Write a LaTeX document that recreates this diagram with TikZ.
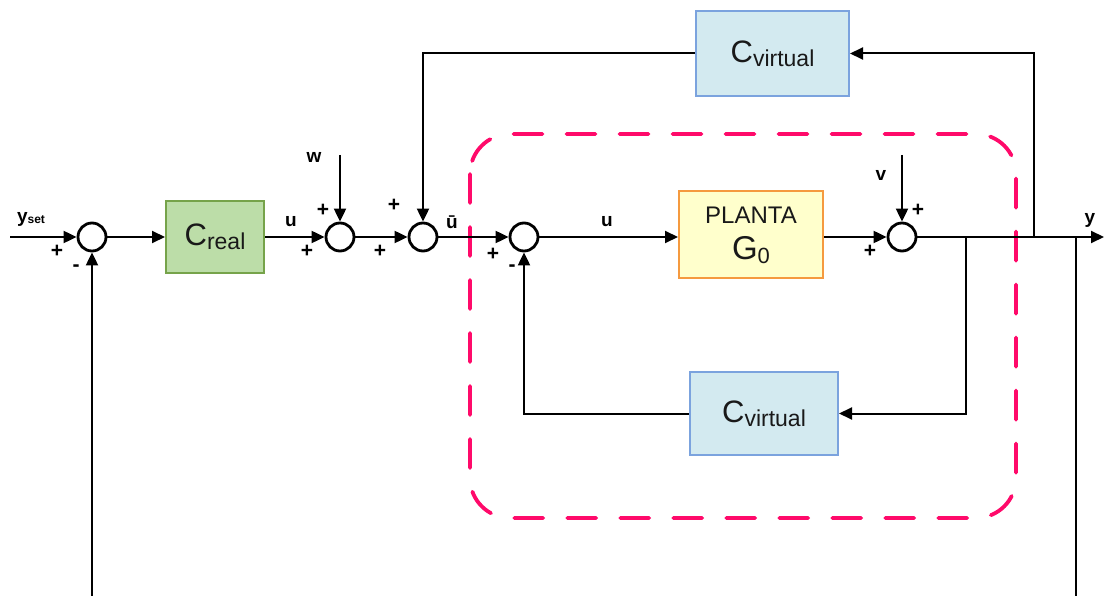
\documentclass[tikz,border=0pt]{standalone}
\usepackage{fontspec}
\setmainfont{Liberation Sans}
\usetikzlibrary{arrows.meta}
\definecolor{realfill}{HTML}{BCDDA8}
\definecolor{realdraw}{HTML}{76A34A}
\definecolor{virtfill}{HTML}{D3EAF0}
\definecolor{virtdraw}{HTML}{7BA3DE}
\definecolor{plantfill}{HTML}{FFFFCC}
\definecolor{plantdraw}{HTML}{F59A3F}
\definecolor{dashcol}{HTML}{FF0A6A}
\tikzset{
  sumnode/.style={circle,draw,line width=2.8pt,minimum size=28pt,inner sep=0pt,fill=white},
  blk/.style={draw,line width=2pt,inner sep=0pt,text=black!90},
  wire/.style={line width=2pt,-{Triangle[length=13pt,width=12pt]}},
  plainwire/.style={line width=2pt},
  lbl/.style={font=\fontsize{19}{19}\selectfont\bfseries,inner sep=0pt},
  sgn/.style={font=\fontsize{21}{21}\selectfont\bfseries,inner sep=0pt},
}
\newcommand{\bigC}[1]{{\fontsize{31}{31}\selectfont C}{\fontsize{23}{23}\selectfont\raisebox{-4pt}{#1}}}
\begin{document}
\begin{tikzpicture}[x=1pt,y=-1pt]
\useasboundingbox (0,0) rectangle (1104,596);
% dashed region
\draw[dashcol,line width=3.8pt,line cap=round,dash pattern=on 29pt off 24pt,rounded corners=40pt]
  (470,134) rectangle (1016,518);
% summing junctions
\node[sumnode] (s1) at (92,237) {};
\node[sumnode] (s2) at (340,237) {};
\node[sumnode] (s3) at (423,237) {};
\node[sumnode] (s4) at (524,237) {};
\node[sumnode] (s5) at (902,237) {};
% blocks
\node[blk,fill=realfill,draw=realdraw,minimum width=98pt,minimum height=72pt] (creal) at (215,237) {\bigC{real}};
\node[blk,fill=virtfill,draw=virtdraw,minimum width=153pt,minimum height=85pt] (cvt) at (772.5,53.5) {\bigC{virtual}};
\node[blk,fill=virtfill,draw=virtdraw,minimum width=148pt,minimum height=83pt] (cvb) at (764,413.5) {\bigC{virtual}};
\node[blk,fill=plantfill,draw=plantdraw,minimum width=144pt,minimum height=87pt,align=center] (plant) at (751,235)
  {{\fontsize{24}{24}\selectfont PLANTA}\\[12pt]{\fontsize{33}{33}\selectfont G}{\fontsize{22}{22}\selectfont\raisebox{-4pt}{0}}};
% coordinates
\coordinate (in) at (10,237);
\coordinate (out) at (1104,237);
\coordinate (b1) at (966,237);
\coordinate (b2) at (1034,237);
\coordinate (b3) at (1076,237);
\coordinate (bot1) at (92,597);
\coordinate (bot2) at (1076,597);
\coordinate (wtop) at (340,155);
\coordinate (vtop) at (902,155);
% main path
\draw[wire] (in) -- (s1);
\draw[wire] (s1) -- (creal);
\draw[wire] (creal) -- (s2);
\draw[wire] (s2) -- (s3);
\draw[wire] (s3) -- (s4);
\draw[wire] (s4) -- (s4 -| plant.west);
\draw[wire] (s5 -| plant.east) -- (s5);
\draw[wire] (s5) -- (out);
% disturbances
\draw[wire] (wtop) -- (s2);
\draw[wire] (vtop) -- (s5);
% feedbacks
\draw[wire] (b2) |- (cvt.east);
\draw[wire] (cvt.west) -| (s3.north);
\draw[wire] (b1) |- (cvb.east);
\draw[wire] (cvb.west) -| (s4.south);
\draw[plainwire] (b3) -- (bot2);
\draw[wire] (bot1) -- (s1.south);
% labels
\node[lbl] (lyset) at (31,219) {y{\fontsize{12}{12}\selectfont\bfseries\raisebox{-1pt}{set}}};
\node[sgn] (p1a) at (57,251) {+};
\node[sgn] (m1) at (76,268) {-};
\node[lbl] (lu1) at (291,222) {u};
\node[lbl] (lw) at (314,157) {w};
\node[sgn] (p2a) at (323,210) {+};
\node[sgn] (p2b) at (307,251) {+};
\node[sgn] (p3a) at (394,205) {+};
\node[sgn] (p3b) at (380,251) {+};
\node[lbl] (lub) at (452,222) {ū};
\node[sgn] (p4a) at (493,254) {+};
\node[sgn] (m4) at (512,268) {-};
\node[lbl] (lu2) at (607,222) {u};
\node[lbl] (lv) at (881,175) {v};
\node[sgn] (p5a) at (918,210) {+};
\node[sgn] (p5b) at (870,251) {+};
\node[lbl] (ly) at (1090,220) {y};
\end{tikzpicture}
\end{document}
